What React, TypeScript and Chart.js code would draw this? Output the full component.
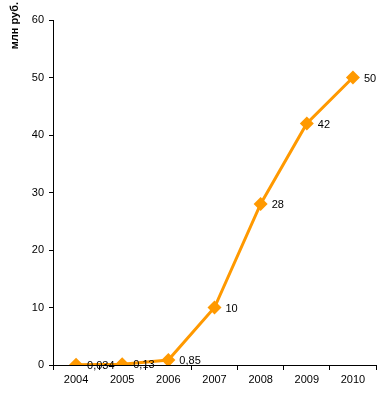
import React, { useEffect, useRef } from "react";
import { Chart, registerables } from "chart.js";

Chart.register(...registerables);

const years = ["2004", "2005", "2006", "2007", "2008", "2009", "2010"];
const values = [0.034, 0.13, 0.85, 10, 28, 42, 50];
const valueLabels = ["0,034", "0,13", "0,85", "10", "28", "42", "50"];
const yTicks = [0, 10, 20, 30, 40, 50, 60];
const yTitle = "млн руб.";

const FONT = "'Liberation Sans', Arial, sans-serif";

const labelPlugin = {
  id: "labels",
  afterDatasetsDraw(chart: any) {
    const ctx = chart.ctx;
    const meta = chart.getDatasetMeta(0);
    ctx.save();
    ctx.font = `11px ${FONT}`;
    ctx.fillStyle = "#000";
    ctx.textAlign = "left";
    ctx.textBaseline = "middle";
    meta.data.forEach((pt: any, i: number) => {
      ctx.fillText(valueLabels[i], pt.x + 11, pt.y + 1);
    });
    // y axis title
    ctx.translate(15, 2);
    ctx.rotate(-Math.PI / 2);
    ctx.font = `bold 11px ${FONT}`;
    ctx.textAlign = "right";
    ctx.textBaseline = "middle";
    ctx.fillText(yTitle, 0, 0);
    ctx.restore();
  },
};

export default function App() {
  const ref = useRef<HTMLCanvasElement>(null);
  useEffect(() => {
    const chart = new Chart(ref.current!, {
      type: "line",
      data: {
        labels: years,
        datasets: [
          {
            data: values,
            borderColor: "#FF9900",
            backgroundColor: "#FF9900",
            borderWidth: 3,
            pointStyle: "rectRot",
            pointRadius: 7,
            pointBorderWidth: 0,
            pointBackgroundColor: "#FF9900",
            tension: 0,
          },
        ],
      },
      options: {
        animation: false,
        responsive: false,
        layout: { padding: { top: 20, right: 9, left: 0, bottom: 0 } },
        plugins: { legend: { display: false }, tooltip: { enabled: false } },
        scales: {
          x: {
            offset: true,
            grid: { offset: true, drawOnChartArea: false, tickLength: 5, color: "#000" },
            border: { color: "#000", width: 1 },
            ticks: { color: "#000", font: { family: FONT, size: 11 }, padding: 3, maxRotation: 0 },
            afterFit: (s: any) => { s.height = 31; },
          },
          y: {
            min: 0,
            max: 60,
            afterBuildTicks: (s: any) => { s.ticks = yTicks.map((v) => ({ value: v })); },
            grid: { drawOnChartArea: false, tickLength: 4, color: "#000" },
            border: { color: "#000", width: 1 },
            ticks: { color: "#000", font: { family: FONT, size: 11 }, padding: 5 },
            afterFit: (s: any) => { s.width = 53; },
          },
        },
      },
      plugins: [labelPlugin],
    });
    return () => chart.destroy();
  }, []);
  return (
    <div style={{ position: "fixed", left: 0, top: 0, width: 385, height: 396, background: "#fff" }}>
      <canvas ref={ref} width={385} height={396} />
    </div>
  );
}
